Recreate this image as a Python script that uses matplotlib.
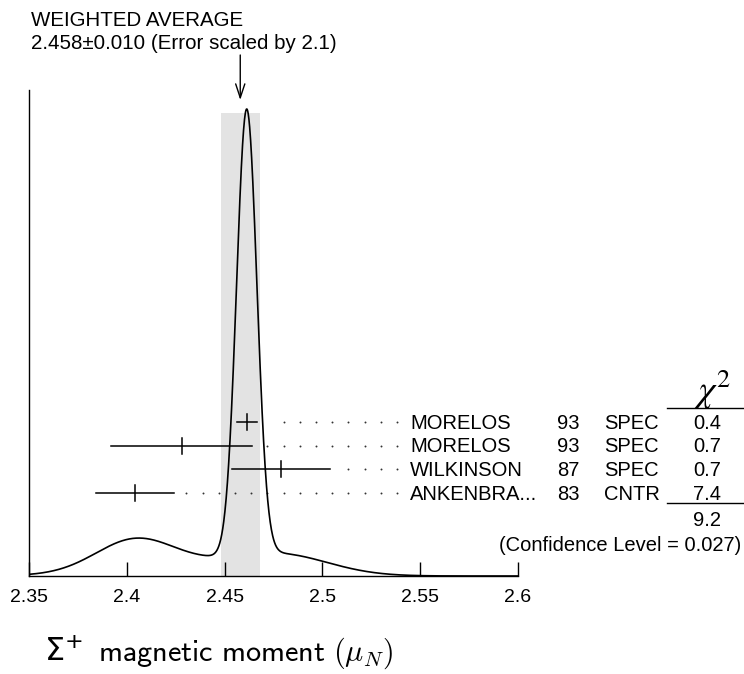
import numpy as np
import matplotlib
matplotlib.use("Agg")
import matplotlib.pyplot as plt

# ---------------- data ----------------
authors = ["MORELOS", "MORELOS", "WILKINSON", "ANKENBRA..."]
years = ["93", "93", "87", "83"]
techniques = ["SPEC", "SPEC", "SPEC", "CNTR"]
values = [2.4613, 2.428, 2.479, 2.404]
errors = [0.0052, 0.036, 0.025, 0.020]
chi2_values = ["0.4", "0.7", "0.7", "7.4"]
chi2_total = "9.2"
confidence = "(Confidence Level = 0.027)"
avg_value = 2.458
avg_error = 0.010
title_lines = ["WEIGHTED AVERAGE", "2.458\u00b10.010 (Error scaled by 2.1)"]
tick_values = [2.35, 2.4, 2.45, 2.5, 2.55, 2.6]
tick_labels = ["2.35", "2.4", "2.45", "2.5", "2.55", "2.6"]
xlabel_symbol = r"$\Sigma^{+}$"
xlabel_text = r"$\mathsf{magnetic\ moment\ (}\mu_{N}\mathsf{)}$"

FONT = "Liberation Sans"
W, H = 744, 674
fig = plt.figure(figsize=(W / 100, H / 100), dpi=100)


def fx(px):
    return px / W


def fy(py):
    return 1 - py / H


ax_left, ax_right, ax_top, ax_bot = 29, 518, 90, 576
ax = fig.add_axes([fx(ax_left), fy(ax_bot), fx(ax_right - ax_left), (ax_bot - ax_top) / H])
ax.set_xlim(2.35, 2.6)

# ideogram curve: each measurement a Gaussian with area proportional to 1/sigma
xs = np.linspace(2.35, 2.6, 2000)
ys = np.zeros_like(xs)
for v, e in zip(values, errors):
    ys += (1.0 / e) * np.exp(-0.5 * ((xs - v) / e) ** 2) / (e * np.sqrt(2 * np.pi))
peak_frac = 467 / 486
ax.set_ylim(0, ys.max() / peak_frac)
ax.plot(xs, ys, color="black", lw=1.2, zorder=3)

# weighted average band
band_top = (ax_bot - 112.7) / (ax_bot - ax_top)
ax.axvspan(avg_value - avg_error, avg_value + avg_error, ymin=0, ymax=band_top,
           color="#e3e3e3", lw=0, zorder=0)

# spines / ticks
for s in ["top", "right"]:
    ax.spines[s].set_visible(False)
ax.spines["left"].set_linewidth(1.0)
ax.spines["bottom"].set_linewidth(1.0)
ax.set_yticks([])
ax.set_xticks(tick_values, labels=tick_labels)
ax.tick_params(axis="x", direction="in", length=10, width=1.0, pad=9,
               labelsize=14, labelfontfamily=FONT)
ax.patch.set_alpha(0)

# measurements (x in data, y in axes fraction)
trans = ax.get_xaxis_transform()
row0_px = 422
drow_px = 23.5
row0 = (ax_bot - row0_px) / (ax_bot - ax_top)
drow = drow_px / (ax_bot - ax_top)
half_tick = 8 / (ax_bot - ax_top)
dot_end, dot_step, dot_gap = 2.5381, 0.00828, 0.0059
fs = 14.5
for i, (v, e) in enumerate(zip(values, errors)):
    yr = row0 - i * drow
    ax.plot([v - e, v + e], [yr, yr], color="black", lw=1.1, transform=trans, zorder=4)
    ax.plot([v, v], [yr - half_tick, yr + half_tick], color="black", lw=1.1,
            transform=trans, zorder=4)
    dots = []
    d = dot_end
    while d > v + e + dot_gap:
        dots.append(d)
        d -= dot_step
    ax.plot(dots, [yr] * len(dots), ls="none", marker="o", ms=1.4, color="#333333",
            mec="none", transform=trans, clip_on=False, zorder=2)

    base = row0_px + 7 + i * drow_px
    fig.text(fx(410), fy(base), authors[i], ha="left", va="baseline", fontsize=fs, family=FONT)
    fig.text(fx(580), fy(base), years[i], ha="right", va="baseline", fontsize=fs, family=FONT)
    fig.text(fx(604), fy(base), techniques[i], ha="left", va="baseline", fontsize=fs,
             family=FONT)
    fig.text(fx(707), fy(base), chi2_values[i], ha="center", va="baseline", fontsize=fs,
             family=FONT)

# chi2 header and lines
fig.text(fx(712), fy(402), r"$\chi^{2}$", ha="center", va="baseline", fontsize=27,
         math_fontfamily="stix")
fig.add_artist(plt.Line2D([fx(667), fx(744)], [fy(408), fy(408)], color="black", lw=1.0))
fig.add_artist(plt.Line2D([fx(667), fx(744)], [fy(503), fy(503)], color="black", lw=1.0))
fig.text(fx(707), fy(526), chi2_total, ha="center", va="baseline", fontsize=fs, family=FONT)
fig.text(fx(741), fy(551), confidence, ha="right", va="baseline", fontsize=fs, family=FONT)

# title and arrow
fig.text(fx(31), fy(26), title_lines[0], ha="left", va="baseline", fontsize=14.8, family=FONT)
fig.text(fx(31), fy(49), title_lines[1], ha="left", va="baseline", fontsize=14.8, family=FONT)
y_head = (ax_bot - 100) / (ax_bot - ax_top)
y_tail = (ax_bot - 55) / (ax_bot - ax_top)
ax.annotate("", xy=(avg_value, y_head), xytext=(avg_value, y_tail), xycoords=trans,
            textcoords=trans, annotation_clip=False,
            arrowprops=dict(arrowstyle="->,head_length=1.0,head_width=0.33", lw=1.0,
                            color="black", shrinkA=0, shrinkB=0))

# x label
fig.text(fx(44), fy(661), xlabel_symbol, ha="left", va="baseline", fontsize=23,
         math_fontfamily="dejavusans")
fig.text(fx(98), fy(661), xlabel_text, ha="left", va="baseline", fontsize=21.8,
         math_fontfamily="cm")

fig.savefig("out.png", dpi=100)
